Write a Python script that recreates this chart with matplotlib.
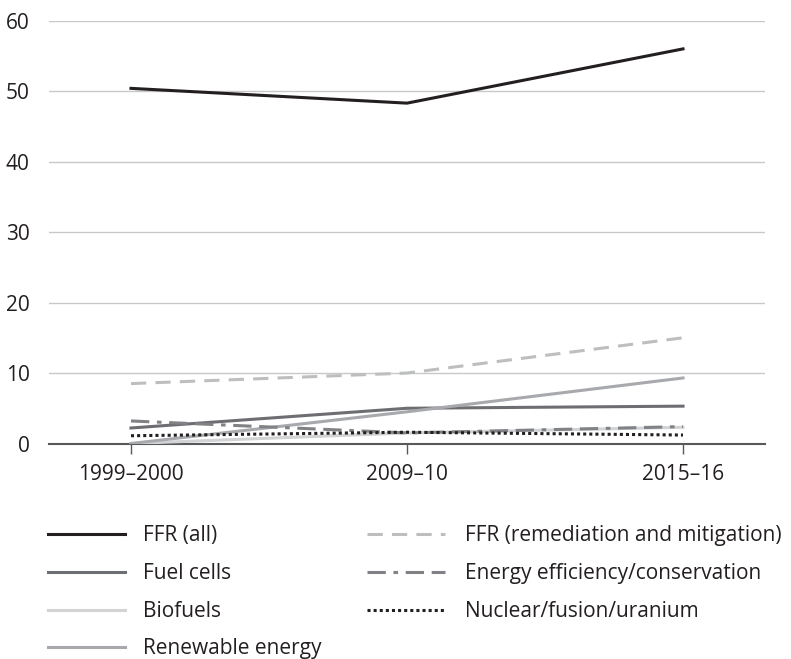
import matplotlib
matplotlib.use("Agg")
import matplotlib.pyplot as plt
from matplotlib.lines import Line2D

plt.rcParams['font.family'] = ['Open Sans', 'DejaVu Sans']

periods = ["1999\u20132000", "2009\u201310", "2015\u201316"]
ffr_all = [50.4, 48.3, 56.0]
fuel_cells = [2.2, 5.0, 5.3]
biofuels = [0.0, 1.5, 2.3]
renewable = [0.0, 4.5, 9.3]
ffr_remediation = [8.5, 10.0, 15.0]
energy_eff = [3.2, 1.5, 2.4]
nuclear = [1.1, 1.6, 1.2]
yticks = [0, 10, 20, 30, 40, 50, 60]

W, H = 791, 659
fig = plt.figure(figsize=(W/100, H/100), dpi=100)
ax = fig.add_axes([49/W, 1-443.5/H, (765-49)/W, (443.5-20.7)/H])

x = list(range(len(periods)))
lw = 2.2
series = [
    ('FFR (all)', ffr_all, dict(color='#231f20', ls='-'), 5),
    ('Fuel cells', fuel_cells, dict(color='#6d6e71', ls='-'), 4),
    ('Biofuels', biofuels, dict(color='#d1d3d4', ls='-'), 3),
    ('Renewable energy', renewable, dict(color='#a7a9ac', ls='-'), 4),
    ('FFR (remediation and mitigation)', ffr_remediation, dict(color='#bcbec0', ls=(0, (5, 3))), 4),
    ('Energy efficiency/conservation', energy_eff, dict(color='#808285', ls=(0, (6, 2.5, 1.5, 2.5, 6, 2.5))), 4),
    ('Nuclear/fusion/uranium', nuclear, dict(color='#231f20', ls=(0, (1, 1))), 4),
]
for label, vals, style, z in series:
    ax.plot(x, vals, lw=lw, label=label, zorder=z, **style)

ax.set_xlim(-0.297, 2.297)
ax.set_ylim(0, 60)
ax.set_xticks(x)
ax.set_xticklabels(periods, fontsize=15, color='#231f20')
ax.set_yticks(yticks)
ax.set_yticklabels([str(v) for v in yticks], fontsize=15, color='#231f20')
ax.yaxis.grid(True, color='#c7c8ca', lw=1)
ax.set_axisbelow(True)
for s in ['top', 'right', 'left']:
    ax.spines[s].set_visible(False)
ax.spines['bottom'].set_color('#58595b')
ax.spines['bottom'].set_linewidth(1.5)
ax.tick_params(axis='y', length=0, pad=14)
ax.tick_params(axis='x', length=7, width=1, color='#58595b', pad=8)

# legend drawn manually in two columns
rows_px = [534, 572, 610, 647]
cols = [(48, 125, 143), (367, 445, 465)]
for i, (label, vals, style, z) in enumerate(series):
    col = 0 if i < 4 else 1
    row = i if i < 4 else i - 4
    x0, x1, xt = cols[col]
    yp = rows_px[row]
    fy = 1 - yp / H
    fig.add_artist(Line2D([x0 / W, x1 / W], [fy, fy], transform=fig.transFigure,
                          lw=lw, **style))
    fig.text(xt / W, 1 - (yp + 7.4) / H, label, fontsize=15, color='#231f20',
             va='baseline', ha='left')

fig.savefig('out.png', dpi=100)
